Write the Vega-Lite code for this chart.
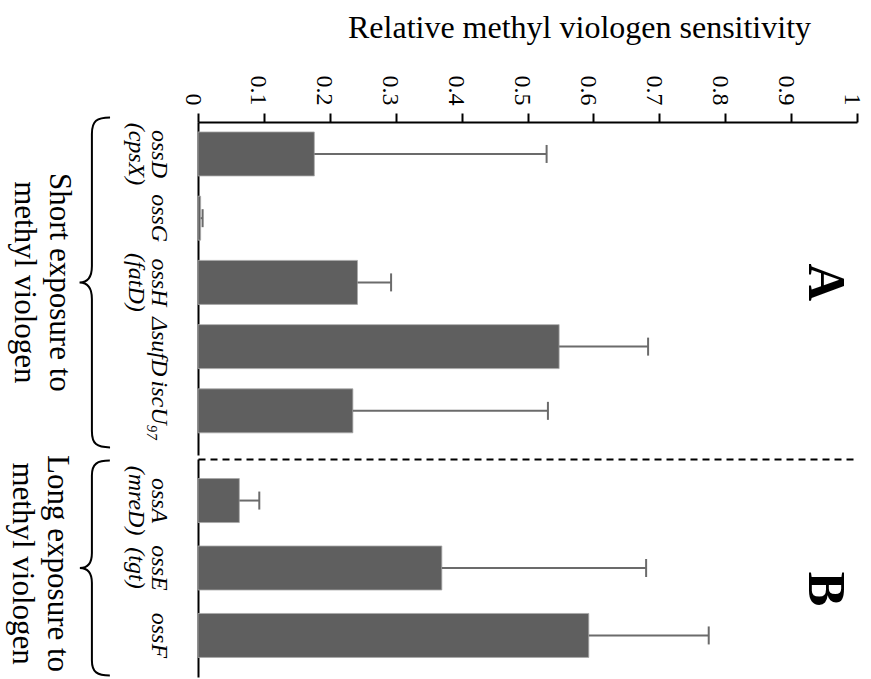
{
  "$schema": "https://vega.github.io/schema/vega-lite/v6.json",
  "padding": {"left": 6, "top": 11, "right": 13, "bottom": 7},
  "config": {"view": {"stroke": null}, "font": "Liberation Serif"},
  "datasets": {
    "genesA": [
      {"gene": "ossD\n(cpsX)", "value": 0.1765, "err": 0.529},
      {"gene": "ossG", "value": 0.004, "err": 0.007},
      {"gene": "ossH\n(fatD)", "value": 0.242, "err": 0.293},
      {"gene": "ΔsufD", "value": 0.548, "err": 0.683},
      {"gene": "iscU₉₇", "value": 0.235, "err": 0.531}
    ],
    "genesB": [
      {"gene": "ossA\n(mreD)", "value": 0.0627, "err": 0.093},
      {"gene": "ossE\n(tgt)", "value": 0.37, "err": 0.68},
      {"gene": "ossF", "value": 0.593, "err": 0.775}
    ],
    "notesA": [{"panel": "A", "label": "Short exposure to\nmethyl viologen"}],
    "notesB": [{"panel": "B", "label": "Long exposure to\nmethyl viologen"}]
  },
  "spacing": 0,
  "resolve": {"scale": {"x": "independent", "y": "independent"}},
  "vconcat": [
    {
      "width": 659,
      "height": 333,
      "encoding": {
        "y": {
          "field": "gene", "type": "nominal", "sort": null,
          "scale": {"domain": ["ossD\n(cpsX)", "ossG", "ossH\n(fatD)", "ΔsufD", "iscU₉₇"], "paddingInner": 0.315, "paddingOuter": 0.25, "align": 0.31},
          "axis": {"orient": "left", "title": null, "ticks": false, "tickSize": 0, "labelAngle": 90, "labelAlign": "center", "labelBaseline": "top", "labelPadding": 28, "labelFont": "Liberation Serif", "labelFontStyle": "italic", "labelFontSize": 24, "labelLineHeight": 23, "labelColor": "black", "labelLimit": 0, "labelExpr": "split(datum.label, '\\n')", "domainColor": "black", "domainWidth": 2}
        }
      },
      "layer": [
        {
          "data": {"name": "genesA"},
          "mark": {"type": "bar", "color": "#5f5f5f", "stroke": "#a8a8a8", "strokeWidth": 0.8},
          "encoding": {
            "x": {
              "field": "value", "type": "quantitative",
              "scale": {"domain": [0, 1], "nice": false},
              "axis": {
                "orient": "top",
                "values": [0, 0.05, 0.1, 0.15, 0.2, 0.25, 0.3, 0.35, 0.4, 0.45, 0.5, 0.55, 0.6, 0.65, 0.7, 0.75, 0.8, 0.85, 0.9, 0.95, 1],
                "labelExpr": "round(datum.value*20)%2===1 ? '' : format(datum.value, '~g')",
                "labelAngle": 90, "labelAlign": "right", "labelBaseline": "middle",
                "labelFont": "Liberation Serif", "labelFontSize": 24, "labelColor": "black",
                "labelPadding": 8, "labelOffset": -6, "labelFlush": false, "labelOverlap": false,
                "tickSize": {"condition": {"test": "round(datum.value*20)%2===1", "value": 5}, "value": 9},
                "tickWidth": 2, "tickColor": "black",
                "domainColor": "black", "domainWidth": 2, "grid": false,
                "title": "Relative methyl viologen sensitivity",
                "titleFont": "Liberation Serif", "titleFontSize": 32, "titleFontWeight": "normal", "titleColor": "black",
                "titleX": 381, "titleY": -85, "titleAlign": "center", "titleBaseline": "alphabetic", "titleAngle": 0
              }
            }
          }
        },
        {
          "data": {"name": "genesA"},
          "mark": {"type": "rule", "color": "#6b6b6b", "strokeWidth": 2},
          "encoding": {
            "x": {"field": "value", "type": "quantitative"},
            "x2": {"field": "err"}
          }
        },
        {
          "data": {"name": "genesA"},
          "mark": {"type": "tick", "color": "#6b6b6b", "thickness": 2, "size": 18, "opacity": 1},
          "encoding": {
            "x": {"field": "err", "type": "quantitative"}
          }
        },
        {
          "data": {"name": "notesA"},
          "mark": {"type": "point", "shape": "M 0.11 -1 C 0.03 -1 0 -0.98 0 -0.9 L 0 -0.1 C 0 -0.03 -0.03 0 -0.075 0 C -0.03 0 0 0.03 0 0.1 L 0 0.9 C 0 0.98 0.03 1 0.11 1", "size": 108900, "filled": false, "stroke": "black", "strokeWidth": 2, "opacity": 1},
          "encoding": {
            "x": {"datum": -0.161, "type": "quantitative"},
            "y": {"datum": "ossH\n(fatD)", "type": "nominal"}
          }
        },
        {
          "data": {"name": "notesA"},
          "mark": {"type": "text", "angle": 90, "align": "center", "baseline": "middle", "fontSize": 31, "lineHeight": 35, "lineBreak": "\n", "font": "Liberation Serif", "color": "black"},
          "encoding": {
            "text": {"field": "label"},
            "x": {"datum": -0.211, "type": "quantitative"},
            "y": {"datum": "ossH\n(fatD)", "type": "nominal"}
          }
        },
        {
          "data": {"name": "notesA"},
          "mark": {"type": "text", "angle": 90, "align": "center", "baseline": "middle", "fontSize": 52, "fontWeight": "bold", "font": "Liberation Serif", "color": "black"},
          "encoding": {
            "text": {"field": "panel"},
            "x": {"datum": 0.951, "type": "quantitative"},
            "y": {"datum": "ossH\n(fatD)", "type": "nominal"}
          }
        }
      ]
    },
    {
      "width": 659,
      "height": 218,
      "encoding": {
        "y": {
          "field": "gene", "type": "nominal", "sort": null,
          "scale": {"domain": ["ossA\n(mreD)", "ossE\n(tgt)", "ossF"], "paddingInner": 0.348, "paddingOuter": 0.29, "align": 0.5},
          "axis": {"orient": "left", "title": null, "ticks": false, "tickSize": 0, "labelAngle": 90, "labelAlign": "center", "labelBaseline": "top", "labelPadding": 28, "labelFont": "Liberation Serif", "labelFontStyle": "italic", "labelFontSize": 24, "labelLineHeight": 23, "labelColor": "black", "labelLimit": 0, "labelExpr": "split(datum.label, '\\n')", "domainColor": "black", "domainWidth": 2}
        }
      },
      "layer": [
        {
          "data": {"name": "genesB"},
          "mark": {"type": "bar", "color": "#5f5f5f", "stroke": "#a8a8a8", "strokeWidth": 0.8},
          "encoding": {
            "x": {
              "field": "value", "type": "quantitative",
              "scale": {"domain": [0, 1], "nice": false},
              "axis": {"orient": "top", "labels": false, "ticks": false, "title": null, "grid": false, "domainDash": [7, 5], "domainWidth": 2, "domainColor": "black"}
            }
          }
        },
        {
          "data": {"name": "genesB"},
          "mark": {"type": "rule", "color": "#6b6b6b", "strokeWidth": 2},
          "encoding": {
            "x": {"field": "value", "type": "quantitative"},
            "x2": {"field": "err"}
          }
        },
        {
          "data": {"name": "genesB"},
          "mark": {"type": "tick", "color": "#6b6b6b", "thickness": 2, "size": 18, "opacity": 1},
          "encoding": {
            "x": {"field": "err", "type": "quantitative"}
          }
        },
        {
          "data": {"name": "notesB"},
          "mark": {"type": "point", "shape": "M 0.167 -1 C 0.05 -1 0 -0.97 0 -0.86 L 0 -0.14 C 0 -0.04 -0.045 0 -0.112 0 C -0.045 0 0 0.04 0 0.14 L 0 0.86 C 0 0.97 0.05 1 0.167 1", "size": 46225, "filled": false, "stroke": "black", "strokeWidth": 2, "opacity": 1},
          "encoding": {
            "x": {"datum": -0.161, "type": "quantitative"},
            "y": {"datum": "ossE\n(tgt)", "type": "nominal"}
          }
        },
        {
          "data": {"name": "notesB"},
          "mark": {"type": "text", "angle": 90, "align": "center", "baseline": "middle", "fontSize": 31, "lineHeight": 35, "lineBreak": "\n", "font": "Liberation Serif", "color": "black"},
          "encoding": {
            "text": {"field": "label"},
            "x": {"datum": -0.214, "type": "quantitative"},
            "y": {"datum": "ossE\n(tgt)", "type": "nominal", "bandPosition": 0.4}
          }
        },
        {
          "data": {"name": "notesB"},
          "mark": {"type": "text", "angle": 90, "align": "center", "baseline": "middle", "fontSize": 52, "fontWeight": "bold", "font": "Liberation Serif", "color": "black"},
          "encoding": {
            "text": {"field": "panel"},
            "x": {"datum": 0.951, "type": "quantitative"},
            "y": {"datum": "ossE\n(tgt)", "type": "nominal", "bandPosition": 0.98}
          }
        }
      ]
    }
  ]
}
